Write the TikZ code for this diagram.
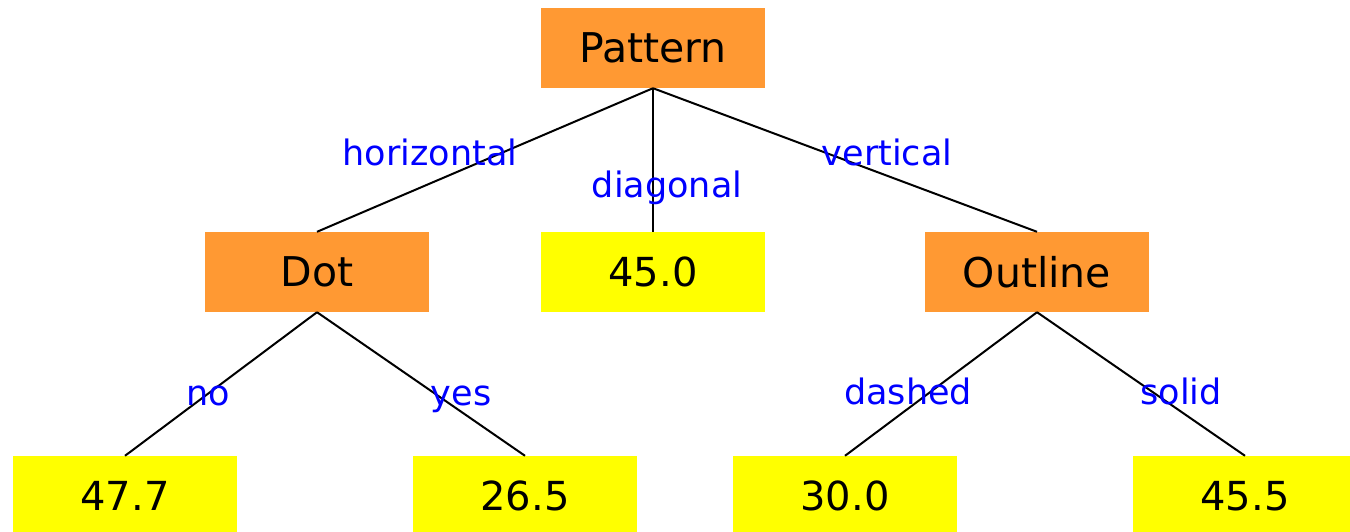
\documentclass[tikz,border=0pt]{standalone}
\usepackage{fontspec}
\setmainfont{DejaVu Sans}
\usepackage{xcolor}
\usepackage{tikz}
\usetikzlibrary{positioning}
\definecolor{splitfill}{HTML}{FF9933}
\definecolor{leaffill}{HTML}{FFFF00}
\definecolor{branchblue}{HTML}{0000FF}
\tikzset{
    splitnode/.style={fill=splitfill,minimum width=224pt,minimum height=80pt,
      inner sep=0pt,font=\fontsize{41}{44}\selectfont},
    leafnode/.style={fill=leaffill,minimum width=224pt,minimum height=80pt,
      inner sep=0pt,font=\fontsize{40}{44}\selectfont},
    branch/.style={draw=black,line width=2pt},
    branchlabel/.style={text=branchblue,inner sep=0pt,anchor=base,
      font=\fontsize{35}{38}\selectfont}
}

\begin{document}
\begin{tikzpicture}[x=1pt,y=-1pt]
  \useasboundingbox (0,0) rectangle (1350,532);

  % split nodes
  \node[splitnode] (pattern) at (653,48) {Pattern};
  \node[splitnode] (dot) at (317,272) {Dot};
  \node[splitnode] (outline) at (1037,272) {Outline};

  % leaves
  \node[leafnode] (diag) at (653,272) {45.0};
  \node[leafnode] (dotno) at (125,496) {47.7};
  \node[leafnode] (dotyes) at (525,496) {26.5};
  \node[leafnode] (outdash) at (845,496) {30.0};
  \node[leafnode] (outsolid) at (1245,496) {45.5};

  % branches
  \draw[branch] (pattern.south) -- (dot.north);
  \draw[branch] (pattern.south) -- (diag.north);
  \draw[branch] (pattern.south) -- (outline.north);
  \draw[branch] (dot.south) -- (dotno.north);
  \draw[branch] (dot.south) -- (dotyes.north);
  \draw[branch] (outline.south) -- (outdash.north);
  \draw[branch] (outline.south) -- (outsolid.north);

  % branch values, placed on their baselines
  \node[branchlabel] (lhoriz) at (430,166) {horizontal};
  \node[branchlabel] (ldiag) at (667,197) {diagonal};
  \node[branchlabel] (lvert) at (887,166) {vertical};
  \node[branchlabel] (lno) at (208,405) {no};
  \node[branchlabel] (lyes) at (461,405) {yes};
  \node[branchlabel] (ldash) at (908,404) {dashed};
  \node[branchlabel] (lsolid) at (1181,404) {solid};
\end{tikzpicture}
\end{document}
